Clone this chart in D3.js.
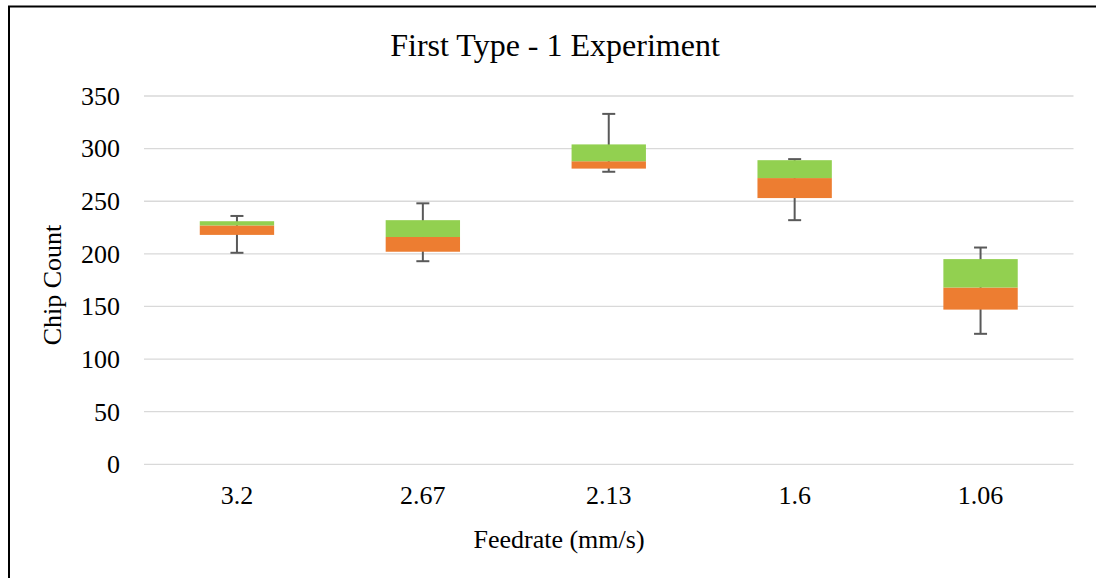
<!DOCTYPE html>
<html>
<head>
<meta charset="utf-8">
<script src="https://cdn.jsdelivr.net/npm/d3@7"></script>
<style>
  body { margin: 0; background: #fff; }
</style>
</head>
<body>
<div id="svg-container"></div>
<script>

// Chart data
const categories = ["3.2", "2.67", "2.13", "1.6", "1.06"];
const minValues = [201, 193, 278, 232, 124];
const q1Values = [218, 202, 281, 253, 147];
const medianValues = [227, 216, 288, 272, 168];
const q3Values = [231, 232, 304, 289, 195];
const maxValues = [236, 248, 333, 290, 206];
const yTicks = [0, 50, 100, 150, 200, 250, 300, 350];

// Constant dimensions
const width = 1096,
      height = 578,
      plot = { left: 144, right: 1073.5, top: 96, bottom: 464.3 },
      font = "'Liberation Serif', 'Times New Roman', serif";

// Build one record per box
const boxes = categories.map(function(c, i) {
    return {
        cat: c,
        min: minValues[i],
        q1: q1Values[i],
        median: medianValues[i],
        q3: q3Values[i],
        max: maxValues[i]
    };
});

// Scales
const x = d3.scaleBand(categories, [plot.left, plot.right])
        .paddingInner(0.6)
        .paddingOuter(0.3);
const y = d3.scaleLinear([0, 350], [plot.bottom, plot.top]);

// Create the SVG
const svg = d3.select("#svg-container").append("svg")
        .attr("width", width)
        .attr("height", height);

svg.append("rect")
    .attr("width", width)
    .attr("height", height)
    .attr("fill", "#fff");

// Outer frame, only top and left edges are visible
svg.append("path")
    .attr("d", `M9,${height}V6.5H${width}`)
    .attr("fill", "none")
    .attr("stroke", "#000")
    .attr("stroke-width", 2);

// Gridlines
svg.append("g")
    .attr("stroke", "#d9d9d9")
    .attr("stroke-width", 1.3)
    .selectAll("line")
    .data(yTicks)
    .join("line")
    .attr("x1", plot.left)
    .attr("x2", plot.right)
    .attr("y1", function(d) { return y(d); })
    .attr("y2", function(d) { return y(d); });

// Y axis tick labels
const yAxis = svg.append("g")
        .attr("transform", `translate(${plot.left},0)`)
        .call(d3.axisLeft(y).tickValues(yTicks).tickSize(0).tickPadding(24));
yAxis.select(".domain").remove();
yAxis.selectAll("text")
    .attr("font-family", font)
    .attr("font-size", 26)
    .attr("fill", "#000");

// X axis tick labels
const xAxis = svg.append("g")
        .attr("transform", `translate(0,${plot.bottom})`)
        .call(d3.axisBottom(x).tickSize(0).tickPadding(21));
xAxis.select(".domain").remove();
xAxis.selectAll("text")
    .attr("font-family", font)
    .attr("font-size", 26)
    .attr("fill", "#000");

// Whiskers
const whisker = svg.append("g")
        .attr("stroke", "#595959")
        .attr("stroke-width", 2)
        .selectAll("g")
        .data(boxes)
        .join("g")
        .attr("transform", function(d) {
            return `translate(${x(d.cat) + x.bandwidth() / 2},0)`;
        });

whisker.append("line")
    .attr("y1", function(d) { return y(d.max); })
    .attr("y2", function(d) { return y(d.min); });

whisker.append("line")
    .attr("x1", -6.5)
    .attr("x2", 6.5)
    .attr("y1", function(d) { return y(d.max); })
    .attr("y2", function(d) { return y(d.max); });

whisker.append("line")
    .attr("x1", -6.5)
    .attr("x2", 6.5)
    .attr("y1", function(d) { return y(d.min); })
    .attr("y2", function(d) { return y(d.min); });

// Boxes: orange lower half, green upper half
const box = svg.append("g")
        .selectAll("g")
        .data(boxes)
        .join("g");

box.append("rect")
    .attr("x", function(d) { return x(d.cat); })
    .attr("width", x.bandwidth())
    .attr("y", function(d) { return y(d.median); })
    .attr("height", function(d) { return y(d.q1) - y(d.median); })
    .attr("fill", "#ed7d31");

box.append("rect")
    .attr("x", function(d) { return x(d.cat); })
    .attr("width", x.bandwidth())
    .attr("y", function(d) { return y(d.q3); })
    .attr("height", function(d) { return y(d.median) - y(d.q3); })
    .attr("fill", "#92d050");

// Titles
svg.append("text")
    .attr("x", 555)
    .attr("y", 56)
    .attr("text-anchor", "middle")
    .attr("font-family", font)
    .attr("font-size", 32)
    .text("First Type - 1 Experiment");

svg.append("text")
    .attr("x", 559)
    .attr("y", 548)
    .attr("text-anchor", "middle")
    .attr("font-family", font)
    .attr("font-size", 26)
    .text("Feedrate (mm/s)");

svg.append("text")
    .attr("transform", "translate(61,285) rotate(-90)")
    .attr("text-anchor", "middle")
    .attr("font-family", font)
    .attr("font-size", 26)
    .text("Chip Count");

</script>
</body>
</html>
